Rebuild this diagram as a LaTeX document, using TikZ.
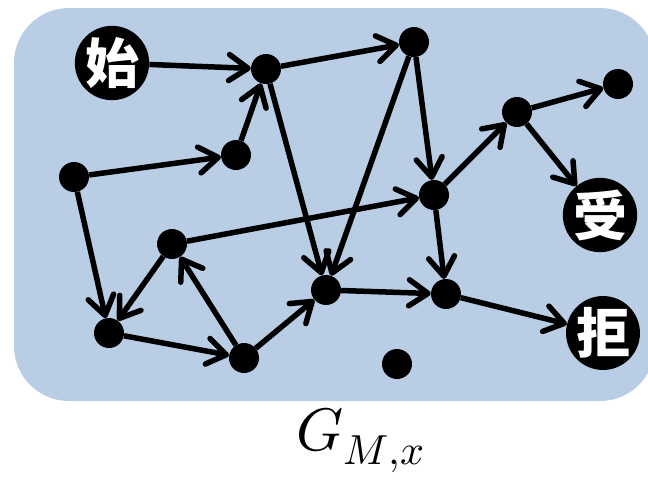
\documentclass[tikz,border=0pt]{standalone}
\usepackage{fontspec}
\usepackage{unicode-math}
\setmathfont{Latin Modern Math}
\newfontfamily\cjk{Noto Sans CJK SC}
\usetikzlibrary{arrows.meta}
\definecolor{panel}{RGB}{185,205,229}
\tikzset{
  vtx/.style={circle, fill=black, minimum size=30pt, inner sep=0pt},
  lbl/.style={circle, fill=black, minimum size=59pt, inner sep=0pt, text=white,
    font=\cjk\bfseries\fontsize{54}{54}\selectfont},
  edge/.style={line width=5.5pt, -{Straight Barb[length=19pt, width=26pt, round]}}
}
\begin{document}
\begin{tikzpicture}[x=1pt, y=-1pt]
  \useasboundingbox (0,0) rectangle (648,480);
  % background panel
  \fill[panel, rounded corners=55pt] (14,8) rectangle (655,401);

  % states
  \node[lbl] (s) at (112,63) {始};
  \node[lbl] (acc) at (600,215) {受};
  \node[lbl] (rej) at (603,333) {拒};
  \node[vtx] (a) at (266,69) {};
  \node[vtx] (b) at (236,155) {};
  \node[vtx] (c) at (74,177) {};
  \node[vtx] (d) at (172,244) {};
  \node[vtx] (e) at (414,42) {};
  \node[vtx] (f) at (517,112) {};
  \node[vtx] (g) at (618,84) {};
  \node[vtx] (h) at (434,195) {};
  \node[vtx] (i) at (109,333) {};
  \node[vtx] (j) at (244,358) {};
  \node[vtx] (k) at (326,290) {};
  \node[vtx] (l) at (446,294) {};
  \node[vtx] (m) at (397,364) {};

  % transitions
  \draw[edge] (s) -- (a);
  \draw[edge] (b) -- (a);
  \draw[edge] (c) -- (b);
  \draw[edge] (a) -- (e);
  \draw[edge] (a) -- (k);
  \draw[edge] (e) -- (k);
  \draw[edge] (e) -- (h);
  \draw[edge] (d) -- (h);
  \draw[edge] (h) -- (f);
  \draw[edge] (f) -- (g);
  \draw[edge] (f) -- (acc);
  \draw[edge] (h) -- (l);
  \draw[edge] (k) -- (l);
  \draw[edge] (l) -- (rej);
  \draw[edge] (c) -- (i);
  \draw[edge] (d) -- (i);
  \draw[edge] (i) -- (j);
  \draw[edge] (j) -- (d);
  \draw[edge] (j) -- (k);

  % graph name
  \node[anchor=base, inner sep=0pt, font=\fontsize{60}{64}\selectfont] (name) at (361,450) {$G_{M,x}$};
\end{tikzpicture}
\end{document}
